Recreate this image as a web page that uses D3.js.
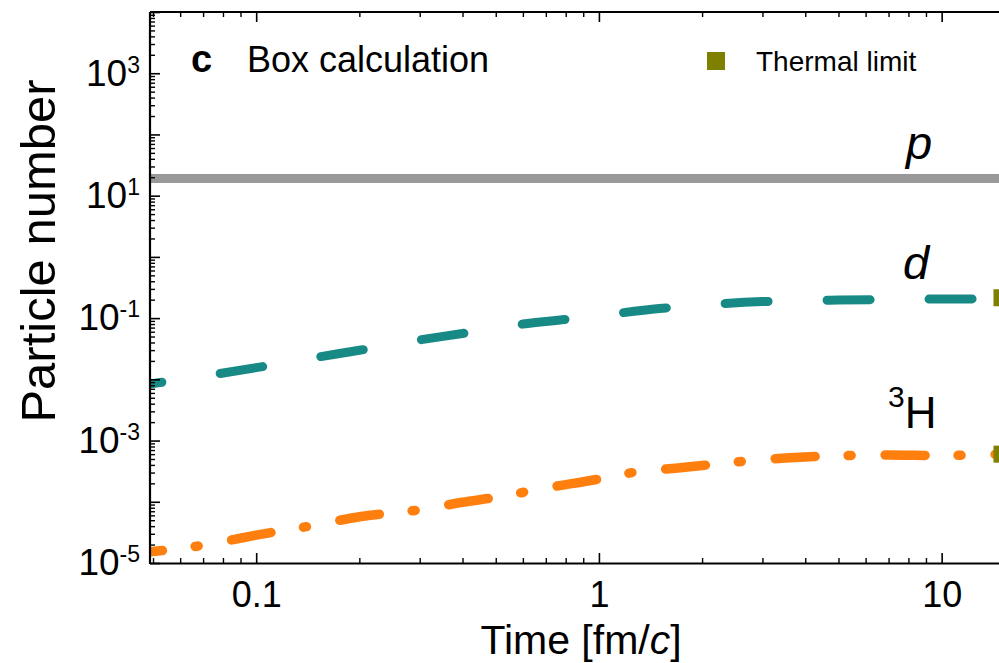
<!DOCTYPE html>
<html>
<head>
<meta charset="utf-8">
<script src="https://cdn.jsdelivr.net/npm/d3@7"></script>
<style>
  html, body { margin: 0; padding: 0; background: #fff; overflow: hidden; }
  svg { display: block; font-family: "Liberation Sans", Arial, Helvetica, sans-serif; }
</style>
</head>
<body>
<svg id="chart" width="999" height="663"></svg>
<script>
// Box calculation: particle numbers versus time (fm/c)

// deuteron yield
const timeD    = [0.049, 0.07, 0.1, 0.15, 0.2, 0.3, 0.4, 0.6, 0.8, 1, 1.5, 2, 3, 5, 8, 12, 15];
const deuteron = [0.0084, 0.0113, 0.0155, 0.0229, 0.0298, 0.044, 0.056, 0.080, 0.095, 0.110,
                  0.143, 0.163, 0.186, 0.197, 0.203, 0.206, 0.207];

// triton (3H) yield
const timeT  = [0.049, 0.07, 0.1, 0.15, 0.2, 0.3, 0.4, 0.5, 0.7, 1, 1.3, 1.7, 2.5, 3.5, 5, 7, 10, 15];
const triton = [1.52e-5, 1.95e-5, 2.85e-5, 4.2e-5, 5.7e-5, 7.4e-5, 9.8e-5, 1.18e-4, 1.68e-4, 2.35e-4,
                3.1e-4, 3.56e-4, 4.45e-4, 5.2e-4, 5.65e-4, 5.8e-4, 5.7e-4, 6.0e-4];

// proton number stays constant
const protonTime  = [0.049, 15];
const protonLevel = [19, 19];

// thermal-limit values at the final time
const thermalTime   = [15, 15];
const thermalValues = [0.215, 6.0e-4];

// axis ticks
const xMajorTicks    = [0.1, 1, 10];
const yDecades       = [-5, -4, -3, -2, -1, 0, 1, 2, 3, 4];
const yLabelExponent = [-5, -3, -1, 1, 3];

const svg = d3.select("#chart");
const plotLeft = 150, plotTop = 12, plotBottom = 563;

const x = d3.scaleLog().domain([0.049, 15]).range([plotLeft, 1002]);
const y = d3.scaleLog().domain([1e-5, 1e4]).range([plotBottom, plotTop]);
const plotRight = x.range()[1] + 12;

// minor tick values
const xMinor = [];
[0.01, 0.1, 1].forEach(b => {
  for (let m = 2; m <= 9; m++) {
    const v = +(m * b).toPrecision(3);
    if (v >= 0.049 && v <= 15 && !xMajorTicks.includes(v)) xMinor.push(v);
  }
});
const yMinor = [];
yDecades.forEach(k => { for (let m = 2; m <= 9; m++) { const v = m * Math.pow(10, k); if (v < 1e4) yMinor.push(v); } });
const yMajor = yDecades.map(k => Math.pow(10, k));

// clip curves to the plotting frame
svg.append("defs").append("clipPath").attr("id", "plotClip")
  .append("rect").attr("x", plotLeft).attr("y", plotTop)
  .attr("width", plotRight - plotLeft).attr("height", plotBottom - plotTop);

const plot = svg.append("g").attr("clip-path", "url(#plotClip)");

const line = d3.line().x(d => x(d[0])).y(d => y(d[1])).curve(d3.curveMonotoneX);

// p
plot.append("path")
  .datum(protonTime.map((t, i) => [t, protonLevel[i]]))
  .attr("d", d3.line().x(d => x(d[0])).y(d => y(d[1])))
  .attr("fill", "none").attr("stroke", "#999999").attr("stroke-width", 9);

// d
plot.append("path")
  .datum(timeD.map((t, i) => [t, deuteron[i]]))
  .attr("d", line)
  .attr("fill", "none").attr("stroke", "#0c847f").attr("stroke-opacity", 0.95)
  .attr("stroke-width", 9).attr("stroke-linecap", "round")
  .attr("stroke-dasharray", "43 59").attr("stroke-dashoffset", 31);

// 3H
plot.append("path")
  .datum(timeT.map((t, i) => [t, triton[i]]))
  .attr("d", line)
  .attr("fill", "none").attr("stroke", "#ff7f0e")
  .attr("stroke-width", 9.5).attr("stroke-linecap", "round")
  .attr("stroke-dasharray", "40 33 3 34").attr("stroke-dashoffset", 27.5);

// thermal limit markers
const sq = 17;
svg.append("g").selectAll("rect")
  .data(thermalTime.map((t, i) => [t, thermalValues[i]]))
  .join("rect")
  .attr("x", d => x(d[0]) - sq / 2).attr("y", d => y(d[1]) - sq / 2)
  .attr("width", sq).attr("height", sq)
  .attr("fill", "#7f7f00");

// axes
const fontFam = '"Liberation Sans", Arial, Helvetica, sans-serif';
function styleAxis(g, width) {
  g.attr("font-family", fontFam);
  g.selectAll(".tick line").attr("stroke", "#000").attr("stroke-width", width);
  g.select(".domain").attr("stroke", "#000").attr("stroke-width", 2.2);
}

// bottom
const gB = svg.append("g").attr("transform", `translate(0,${plotBottom})`)
  .call(d3.axisBottom(x).tickValues(xMajorTicks).tickFormat(d => d3.format("")(d))
    .tickSizeInner(-10).tickSizeOuter(0).tickPadding(18));
styleAxis(gB, 1.6);
gB.select(".domain").attr("d", `M${plotLeft},0.5H${plotRight}`);
gB.selectAll("text").attr("font-size", 36).attr("fill", "#000");
const gBm = svg.append("g").attr("transform", `translate(0,${plotBottom})`)
  .call(d3.axisBottom(x).tickValues(xMinor).tickFormat("").tickSizeInner(-5).tickSizeOuter(0));
styleAxis(gBm, 1.4); gBm.select(".domain").remove();

// top
const gT = svg.append("g").attr("transform", `translate(0,${plotTop})`)
  .call(d3.axisTop(x).tickValues(xMajorTicks).tickFormat("").tickSizeInner(-10).tickSizeOuter(0));
styleAxis(gT, 1.6);
gT.select(".domain").attr("d", `M${plotLeft},0H${plotRight}`);
const gTm = svg.append("g").attr("transform", `translate(0,${plotTop})`)
  .call(d3.axisTop(x).tickValues(xMinor).tickFormat("").tickSizeInner(-5).tickSizeOuter(0));
styleAxis(gTm, 1.4); gTm.select(".domain").remove();

// left
const gL = svg.append("g").attr("transform", `translate(${plotLeft},0)`)
  .call(d3.axisLeft(y).tickValues(yMajor).tickFormat(() => "")
    .tickSizeInner(-10).tickSizeOuter(0).tickPadding(10));
styleAxis(gL, 1.6);
gL.select(".domain").attr("d", `M0,${plotTop}V${plotBottom + 1}`);
gL.selectAll(".tick text").each(function (d) {
  const e = Math.round(Math.log10(d));
  if (!yLabelExponent.includes(e)) return;
  const t = d3.select(this).attr("font-size", 37).attr("fill", "#000");
  t.append("tspan").text("10");
  t.append("tspan").attr("font-size", 23).attr("dy", "-13").text(String(e));
});
const gLm = svg.append("g").attr("transform", `translate(${plotLeft},0)`)
  .call(d3.axisLeft(y).tickValues(yMinor).tickFormat("").tickSizeInner(-5).tickSizeOuter(0));
styleAxis(gLm, 1.4); gLm.select(".domain").remove();

// axis titles
svg.append("text")
  .attr("transform", "translate(55,251) rotate(-90)")
  .attr("text-anchor", "middle").attr("font-size", 49).attr("fill", "#000")
  .text("Particle number");

const xt = svg.append("text")
  .attr("x", 581).attr("y", 654).attr("text-anchor", "middle")
  .attr("font-size", 41).attr("fill", "#000");
xt.append("tspan").text("Time [fm/");
xt.append("tspan").attr("font-style", "italic").text("c");
xt.append("tspan").text("]");

// panel label and legend
svg.append("text").attr("x", 191).attr("y", 72).attr("font-size", 38)
  .attr("font-weight", "bold").attr("fill", "#000").text("c");
svg.append("text").attr("x", 247).attr("y", 72).attr("font-size", 36)
  .attr("fill", "#000").text("Box calculation");

svg.append("rect").attr("x", 707).attr("y", 52).attr("width", 18).attr("height", 18).attr("fill", "#7f7f00");
svg.append("text").attr("x", 756).attr("y", 71).attr("font-size", 28)
  .attr("fill", "#000").text("Thermal limit");

// species labels
svg.append("text").attr("x", 906).attr("y", 159).attr("font-size", 47)
  .attr("font-style", "italic").attr("fill", "#000").text("p");
svg.append("text").attr("x", 903).attr("y", 279).attr("font-size", 47)
  .attr("font-style", "italic").attr("fill", "#000").text("d");
const h3 = svg.append("text").attr("x", 888).attr("y", 428).attr("fill", "#000");
h3.append("tspan").attr("font-size", 30).attr("dy", "-21").text("3");
h3.append("tspan").attr("font-size", 44).attr("dy", "21").text("H");
</script>
</body>
</html>
